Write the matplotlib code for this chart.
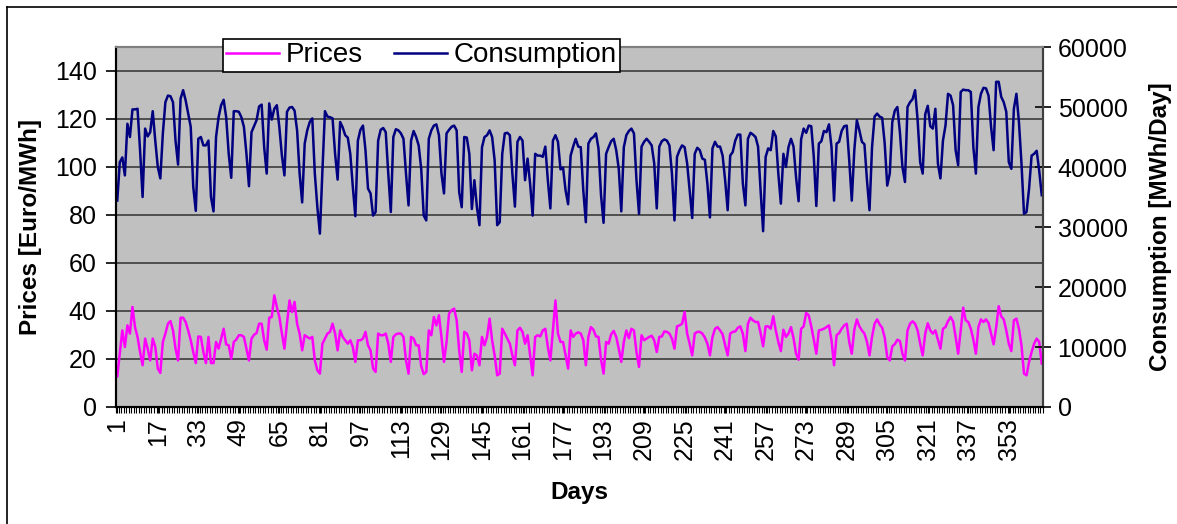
import numpy as np
import matplotlib
matplotlib.use("Agg")
import matplotlib.pyplot as plt
from matplotlib.lines import Line2D

plt.rcParams['font.family'] = ['Liberation Sans', 'DejaVu Sans']

# daily values, day 1..366
prices = [
    12.8, 22.2, 31.9, 25.0, 34.0, 30.6, 41.7, 33.3, 29.2, 22.9,
    17.4, 28.5, 24.3, 19.4, 28.5, 25.0, 16.0, 14.2, 27.1, 30.6,
    34.7, 35.8, 31.9, 24.3, 19.4, 37.2, 37.2, 35.4, 31.9, 27.8,
    22.9, 18.3, 29.4, 29.2, 22.9, 18.3, 29.2, 18.3, 18.3, 27.1,
    24.3, 28.5, 32.6, 26.1, 25.7, 20.1, 27.1, 28.1, 29.9, 29.9,
    29.2, 24.3, 19.4, 28.5, 30.1, 30.8, 34.7, 34.7, 27.8, 23.9,
    37.2, 37.5, 46.5, 41.7, 37.5, 30.6, 24.3, 34.7, 44.4, 39.6,
    43.8, 34.7, 30.6, 23.6, 29.9, 29.2, 28.5, 29.2, 19.4, 15.3,
    13.9, 26.4, 28.5, 30.6, 31.3, 34.7, 30.6, 23.6, 31.9, 29.2,
    27.8, 26.4, 27.8, 25.0, 18.8, 27.8, 27.8, 28.5, 31.3, 25.7,
    23.6, 16.0, 14.6, 30.6, 29.9, 29.9, 30.6, 26.4, 18.8, 29.2,
    30.3, 30.6, 30.6, 29.2, 19.4, 13.9, 29.2, 28.5, 25.7, 25.7,
    17.0, 13.7, 14.6, 31.9, 29.9, 37.5, 34.0, 38.2, 29.2, 18.8,
    27.1, 38.9, 40.3, 41.0, 36.1, 23.6, 14.6, 31.3, 30.6, 27.8,
    15.3, 22.2, 21.5, 17.4, 29.2, 25.7, 29.2, 36.8, 27.8, 21.5,
    13.2, 13.9, 32.6, 30.6, 28.5, 26.4, 21.5, 17.4, 31.9, 33.0,
    31.3, 26.4, 29.9, 21.5, 13.2, 29.2, 29.9, 29.4, 31.9, 32.6,
    25.0, 19.4, 31.9, 44.4, 30.6, 27.1, 27.1, 21.5, 16.0, 31.9,
    29.2, 30.6, 31.1, 30.6, 27.8, 17.4, 29.2, 33.3, 32.2, 29.4,
    29.2, 19.7, 13.9, 27.1, 26.4, 30.3, 31.7, 29.2, 24.3, 18.8,
    27.1, 31.9, 28.7, 32.6, 31.9, 22.9, 16.7, 29.9, 27.8, 28.5,
    29.2, 29.7, 27.8, 22.9, 29.2, 29.4, 31.5, 31.3, 30.6, 28.5,
    24.3, 33.6, 34.0, 34.7, 39.6, 30.6, 26.4, 21.5, 30.6, 31.3,
    31.3, 30.6, 28.9, 26.4, 21.5, 29.2, 32.6, 33.3, 31.9, 30.3,
    25.7, 21.5, 30.6, 31.3, 31.5, 33.0, 33.6, 30.5, 23.3, 34.7,
    37.2, 36.1, 35.4, 35.4, 30.8, 25.3, 33.6, 33.6, 32.6, 37.8,
    31.9, 27.1, 23.3, 32.2, 29.2, 30.6, 33.3, 28.7, 22.2, 19.7,
    32.6, 33.6, 39.2, 38.2, 33.6, 28.1, 22.2, 31.9, 32.2, 32.6,
    33.3, 34.0, 27.8, 17.4, 29.9, 30.8, 32.6, 34.0, 34.7, 27.1,
    22.2, 32.2, 36.5, 33.6, 31.9, 30.6, 27.1, 21.5, 29.2, 34.7,
    36.5, 34.4, 33.0, 28.9, 20.8, 19.4, 25.3, 26.2, 28.0, 27.5,
    22.2, 19.4, 31.8, 34.7, 35.7, 34.7, 31.9, 26.4, 21.5, 30.6,
    34.9, 31.9, 30.6, 31.9, 28.1, 24.3, 32.6, 33.3, 35.8, 37.5,
    35.7, 29.2, 22.2, 31.9, 41.4, 36.1, 35.4, 32.6, 28.1, 22.2,
    33.3, 36.5, 35.4, 36.5, 35.0, 30.6, 26.1, 33.0, 42.0, 37.8,
    36.5, 31.9, 26.4, 23.3, 36.1, 36.8, 32.6, 25.7, 13.9, 13.2,
    18.8, 22.9, 26.4, 28.5, 27.1, 18.1,
]

consumption = [
    34400, 40800, 41600, 38600, 47200, 45000, 49600, 49600, 49700, 42800,
    35000, 46400, 45100, 45800, 49300, 44400, 40000, 38100, 45600, 50800,
    51900, 51800, 50800, 44400, 40400, 51400, 52800, 51100, 48900, 46700,
    36700, 32700, 44700, 45000, 43600, 43600, 44400, 35000, 32600, 45000,
    48300, 50300, 51200, 48300, 42200, 38200, 49300, 49300, 49200, 48300,
    46700, 42200, 36800, 45800, 46800, 47800, 50100, 50400, 43300, 38900,
    50600, 47900, 49700, 50300, 46600, 41900, 38600, 49200, 49900, 50000,
    49400, 46100, 38900, 34100, 43900, 46100, 47500, 48100, 38900, 33300,
    28900, 39400, 49300, 48400, 48300, 48100, 42200, 37900, 47500, 46600,
    45300, 44900, 42200, 36700, 31800, 44400, 46200, 46900, 42800, 36400,
    35600, 31900, 32500, 44400, 46200, 46500, 45800, 38900, 32500, 45000,
    46300, 46100, 45600, 44700, 38900, 33600, 44400, 46000, 45000, 43600,
    39700, 31900, 31100, 44700, 46100, 46900, 47100, 45300, 38900, 35600,
    45600, 46200, 46700, 46900, 46100, 35800, 33300, 45000, 44900, 42200,
    33000, 37800, 33300, 30300, 43300, 45000, 45300, 46100, 45000, 41100,
    30300, 30800, 42200, 45600, 45700, 45300, 38900, 33400, 44200, 45000,
    44400, 37800, 41400, 37200, 31900, 42200, 41900, 41900, 41700, 43400,
    37800, 33100, 44400, 45300, 44200, 39600, 39900, 36100, 33800, 41900,
    43400, 44700, 43400, 43300, 36100, 30800, 43900, 44700, 45000, 45600,
    43100, 35300, 30700, 42200, 43300, 44300, 44700, 42800, 39700, 32600,
    43300, 45300, 46000, 46400, 45600, 37800, 32200, 43400, 44200, 44700,
    44200, 43600, 40600, 33100, 43400, 44300, 44600, 44400, 43600, 38900,
    31100, 41700, 42800, 43600, 43300, 40600, 36100, 31500, 42200, 43200,
    42800, 41400, 41200, 37200, 31600, 43100, 44200, 43400, 43400, 41900,
    37800, 32800, 41900, 42500, 44400, 45400, 45400, 37200, 33600, 44700,
    45700, 45400, 45000, 43400, 36100, 29300, 41700, 43100, 42800, 46000,
    45100, 38900, 33900, 42200, 40000, 43300, 44700, 43400, 38300, 34300,
    44600, 46400, 45700, 46900, 46800, 41700, 33500, 43900, 44300, 46000,
    45800, 47100, 43300, 34400, 43900, 44200, 46000, 46800, 46900, 41100,
    34400, 42800, 47800, 46100, 44200, 43800, 37800, 32800, 43300, 48400,
    48900, 48400, 48200, 43900, 36900, 38900, 47500, 49400, 50000, 45800,
    40000, 37500, 50000, 50800, 51300, 52800, 47800, 40800, 38900, 48800,
    50200, 46800, 46400, 49700, 40600, 38100, 44400, 46900, 52200, 51900,
    50300, 42800, 40300, 52500, 52900, 52800, 52800, 52500, 43300, 38900,
    50000, 52200, 53200, 53100, 51900, 46700, 42800, 54200, 54200, 51700,
    50800, 49200, 40800, 39700, 49700, 52200, 47500, 40600, 32200, 32500,
    36400, 41900, 42200, 42700, 39400, 35300,
]

days = np.arange(1, len(prices) + 1)
day_ticks = list(range(1, 354, 16))
price_ticks = list(range(0, 141, 20))
cons_ticks = list(range(0, 60001, 10000))

W, H = 1177, 524
fig = plt.figure(figsize=(W / 100, H / 100), dpi=100)
fig.patch.set_facecolor("white")

L, R, T, B = 116, 1043, 47, 407
ax = fig.add_axes([L / W, 1 - B / H, (R - L) / W, (B - T) / H])
ax.set_facecolor("#C0C0C0")

p_line, = ax.plot(days, prices, color="#FF00FF", lw=1.8, label="Prices")
ax.set_ylim(0, 150)
ax.set_xlim(0.5, len(days) + 0.5)
ax.set_yticks(price_ticks)
ax.yaxis.grid(True, color="#303030", lw=1.1)
ax.set_axisbelow(True)

ax.set_xticks(day_ticks)
ax.set_xticklabels([str(d) for d in day_ticks], rotation=90)
ax.set_xticks(np.arange(0.5, len(days) + 1, 1), minor=True)
ax.tick_params(axis="x", which="both", direction="out", length=4, width=0.8,
               labelsize=18, pad=4)
ax.tick_params(axis="y", direction="out", length=7, width=1.2, labelsize=18, pad=7)

ax2 = ax.twinx()
c_line, = ax2.plot(days, consumption, color="#000080", lw=1.8, label="Consumption")
ax2.set_ylim(0, 60000)
ax2.set_yticks(cons_ticks)
ax2.tick_params(axis="y", direction="inout", length=11, width=1.2, labelsize=18, pad=5)

for a in (ax, ax2):
    a.spines["left"].set_color("black")
    a.spines["left"].set_linewidth(1.5)
    a.spines["bottom"].set_color("black")
    a.spines["bottom"].set_linewidth(1.5)
    a.spines["top"].set_color("#808080")
    a.spines["top"].set_linewidth(1.5)
    a.spines["right"].set_color("#404040")
    a.spines["right"].set_linewidth(1.5)

ax.set_ylabel("Prices [Euro/MWh]", fontsize=17.5, fontweight="bold")
ax.yaxis.label.set_va("center")
ax.yaxis.set_label_coords((31 - L) / (R - L), 0.5)
ax2.set_ylabel("Consumption [MWh/Day]", fontsize=17.5, fontweight="bold")
ax2.yaxis.label.set_va("center")
ax2.yaxis.set_label_coords((1160 - L) / (R - L), 0.5)
ax.set_xlabel("Days", fontsize=17.5, fontweight="bold")
ax.xaxis.label.set_va("center")
ax.xaxis.set_label_coords(0.5, (B - 493) / (B - T))

leg = fig.legend([p_line, c_line], ["Prices", "Consumption"], loc="upper left",
                 bbox_to_anchor=(223 / W, 1 - 39 / H), ncol=2, fontsize=20,
                 frameon=True, fancybox=False, edgecolor="black", framealpha=1,
                 borderpad=0.12, borderaxespad=0, handlelength=1.9,
                 handletextpad=0.25, columnspacing=1.1)
leg.get_frame().set_linewidth(1.2)

# outer chart frame (only top/left edges visible in the crop)
fig.add_artist(Line2D([7 / W, 1], [1 - 6.5 / H] * 2, transform=fig.transFigure,
                      color="black", lw=1.2))
fig.add_artist(Line2D([7 / W] * 2, [0, 1 - 6.5 / H], transform=fig.transFigure,
                      color="black", lw=1.2))

fig.savefig("out.png", dpi=100)
